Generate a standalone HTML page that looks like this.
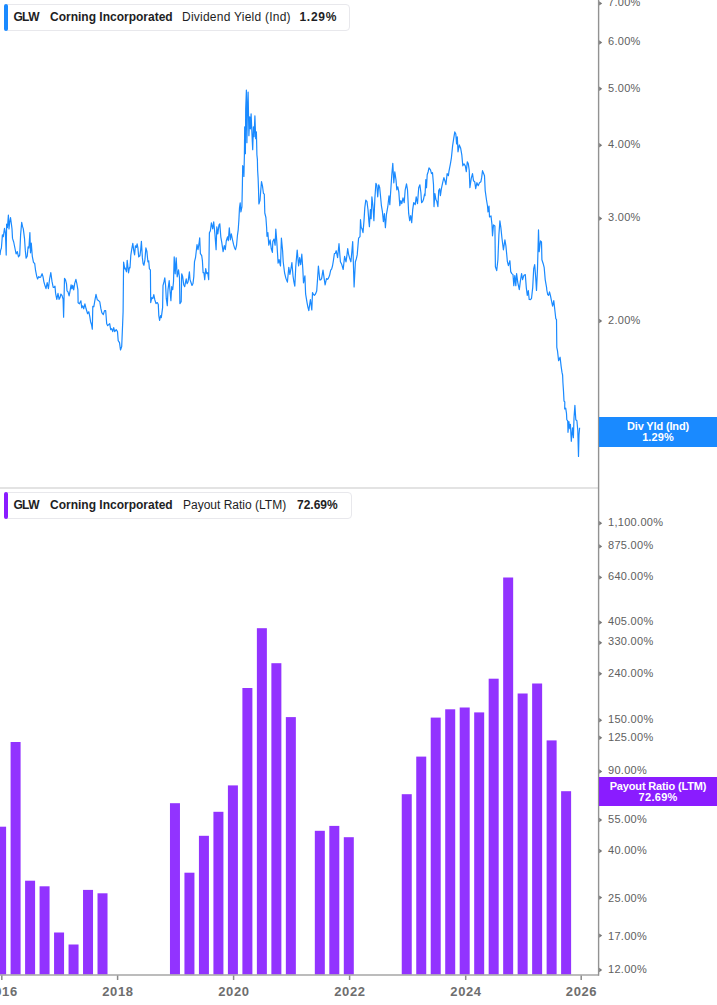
<!DOCTYPE html>
<html><head><meta charset="utf-8">
<style>
html,body{margin:0;padding:0;background:#fff;}
body{width:717px;height:1005px;overflow:hidden;position:relative;font-family:"Liberation Sans",sans-serif;}
svg{position:absolute;left:0;top:0;}
.leg{position:absolute;left:4px;height:26.5px;border:1px solid #e8e8ec;border-radius:4px;background:#fff;box-sizing:border-box;}
.leg .bar{position:absolute;left:-1px;top:-1px;bottom:-1px;width:4px;border-radius:3px;}
.leg span{position:absolute;top:5px;font-size:12px;line-height:14px;color:#1e1e24;white-space:nowrap;}
.b{font-weight:bold;}
.yl{position:absolute;left:608px;font-size:11px;letter-spacing:0.3px;line-height:13px;color:#606060;white-space:nowrap;}
.xl{position:absolute;top:984px;width:60px;text-align:center;font-size:13px;letter-spacing:0.6px;text-indent:0.6px;line-height:15px;font-weight:bold;color:#6e6e6e;}
.tag{position:absolute;left:599px;width:118px;color:#fff;font-weight:bold;font-size:11px;line-height:11px;text-align:center;box-sizing:border-box;}
</style></head><body>
<svg width="717" height="1005" viewBox="0 0 717 1005">
<rect x="0" y="487.2" width="598.8" height="1.6" fill="#dddddd"/>
<path d="M0.0,255.1 L0.6,250.4 L1.4,248.0 L2.4,234.9 L3.3,236.6 L4.5,228.3 L5.4,233.1 L6.2,255.1 L6.6,224.1 L7.4,227.7 L8.4,215.1 L9.0,228.9 L9.6,222.9 L10.5,217.5 L11.4,224.1 L12.0,228.9 L12.5,238.4 L13.7,242.0 L14.9,248.0 L16.1,254.0 L17.3,251.6 L18.5,256.9 L19.7,255.1 L20.6,234.9 L21.7,222.3 L22.5,226.4 L23.3,228.9 L24.5,238.4 L25.3,250.4 L26.1,258.1 L27.2,256.3 L28.1,246.8 L28.9,248.0 L29.9,232.5 L30.5,252.8 L31.3,243.2 L32.3,256.3 L33.5,262.3 L34.7,263.5 L35.6,270.7 L36.8,276.6 L37.6,279.0 L38.8,276.6 L39.7,277.5 L40.6,277.2 L42.1,273.7 L43.0,276.6 L43.9,281.8 L44.8,285.0 L46.0,288.6 L47.2,282.6 L48.4,288.6 L49.6,279.0 L50.8,272.5 L52.0,281.4 L53.2,287.4 L54.1,287.4 L55.0,286.2 L55.6,293.4 L56.8,299.3 L58.0,293.4 L59.1,299.3 L60.0,297.6 L60.9,294.0 L62.1,295.7 L63.1,299.3 L63.6,317.2 L64.5,278.4 L65.5,279.9 L66.5,283.9 L67.0,290.8 L68.0,291.8 L69.1,295.8 L69.9,291.8 L71.1,284.9 L71.9,288.9 L72.7,285.4 L73.7,289.9 L74.7,283.4 L75.9,279.4 L76.9,283.9 L77.9,289.9 L78.1,302.8 L79.4,303.8 L80.9,300.8 L81.7,307.8 L82.7,305.8 L83.7,308.8 L84.9,303.8 L86.1,308.8 L87.6,313.7 L88.8,311.7 L89.8,316.7 L90.6,321.7 L91.5,324.5 L92.3,329.2 L92.8,306.3 L93.8,306.8 L94.8,300.8 L96.0,294.3 L97.3,299.8 L98.8,300.8 L99.8,301.8 L100.8,308.2 L101.8,312.7 L103.3,314.7 L104.5,310.7 L105.7,310.7 L106.7,323.7 L107.7,325.7 L108.7,324.7 L109.7,323.7 L110.7,329.7 L111.7,328.7 L112.7,331.6 L113.7,327.7 L114.7,331.6 L116.2,329.7 L117.5,331.6 L118.2,340.6 L119.5,342.6 L120.5,350.0 L121.7,346.6 L122.6,324.7 L123.1,311.7 L123.6,262.0 L124.8,269.0 L125.0,267.8 L125.8,269.8 L126.5,271.8 L127.2,260.3 L128.0,267.8 L128.5,272.8 L129.5,267.3 L130.0,267.8 L130.8,255.4 L131.8,248.9 L132.8,243.4 L133.8,250.9 L134.6,254.9 L135.4,245.9 L136.4,247.4 L137.1,243.9 L137.9,247.9 L138.7,256.9 L139.9,255.9 L140.7,249.9 L141.4,241.4 L142.4,257.9 L143.1,263.8 L143.9,265.3 L144.9,259.9 L145.9,247.9 L146.9,251.4 L147.9,261.8 L148.7,260.8 L149.4,268.8 L150.4,269.8 L150.7,302.6 L151.8,297.7 L152.8,298.7 L153.8,294.7 L154.8,299.7 L156.0,303.6 L157.3,302.6 L158.3,304.6 L158.8,315.6 L159.6,320.5 L160.6,315.6 L161.3,317.6 L162.6,307.6 L163.0,285.7 L164.0,281.7 L164.8,277.8 L165.6,285.7 L166.3,298.7 L167.3,305.6 L168.0,289.7 L169.2,280.7 L169.9,289.7 L170.9,300.6 L171.7,286.7 L172.7,289.7 L173.5,281.7 L174.2,256.9 L175.2,273.8 L176.2,257.9 L177.2,276.8 L178.5,269.8 L179.5,277.8 L179.9,303.6 L181.2,301.6 L181.7,273.8 L182.7,276.8 L183.7,284.7 L184.7,286.7 L186.2,278.8 L187.1,283.7 L188.1,281.7 L189.4,271.8 L190.0,279.6 L191.0,282.5 L192.0,285.5 L193.0,283.5 L193.8,276.6 L194.5,261.6 L195.5,257.7 L196.2,251.7 L197.0,244.7 L198.0,249.7 L199.0,243.7 L199.7,237.8 L200.4,253.7 L201.7,255.7 L202.4,260.6 L203.1,272.6 L203.9,272.6 L204.7,279.6 L205.7,268.6 L206.7,273.6 L207.7,272.6 L208.7,279.6 L209.4,232.8 L210.4,230.8 L211.4,222.8 L212.7,228.8 L213.7,221.8 L214.9,233.8 L216.1,249.7 L216.8,226.8 L217.8,233.8 L219.0,224.8 L219.8,223.8 L220.8,236.8 L221.8,242.7 L223.1,251.7 L224.3,245.7 L225.3,249.7 L226.3,240.7 L227.6,236.8 L228.3,240.7 L229.3,227.8 L230.3,239.8 L231.3,233.8 L232.3,238.8 L233.6,244.7 L234.5,247.7 L235.5,249.7 L236.5,245.7 L237.5,234.8 L238.2,229.8 L238.9,219.9 L239.5,207.9 L240.2,202.9 L240.9,211.9 L241.9,206.9 L242.4,184.5 L242.7,165.6 L243.7,168.6 L243.9,176.5 L244.4,154.7 L244.7,126.8 L245.4,153.7 L245.7,108.9 L246.4,90.0 L246.9,142.7 L247.4,109.9 L248.1,92.0 L248.9,135.7 L249.7,116.8 L250.4,128.8 L251.1,113.9 L251.9,132.8 L252.7,149.7 L253.4,126.8 L254.1,136.7 L254.9,115.8 L255.7,138.7 L256.4,131.8 L256.9,154.7 L257.4,159.6 L257.6,170.0 L258.1,178.1 L258.5,188.8 L258.9,204.0 L260.0,200.4 L260.6,192.4 L261.5,181.6 L262.5,186.1 L263.4,193.3 L264.3,194.2 L264.8,213.0 L265.9,217.5 L266.6,227.3 L267.0,236.3 L267.9,232.7 L268.8,245.2 L270.1,239.8 L271.3,248.8 L272.4,252.4 L272.8,241.6 L274.0,239.0 L275.1,245.2 L275.8,229.1 L276.8,241.6 L277.9,259.6 L278.1,263.2 L279.1,259.7 L280.5,266.0 L281.4,238.1 L282.6,250.7 L283.2,261.8 L284.6,273.0 L286.0,278.6 L287.4,282.1 L288.8,267.4 L289.9,274.4 L290.9,269.0 L291.9,262.5 L293.0,275.8 L293.9,281.8 L294.8,286.2 L295.8,266.0 L297.2,250.0 L298.6,266.0 L299.6,257.7 L300.7,264.6 L301.8,254.2 L302.8,268.8 L303.5,282.8 L304.9,275.8 L305.6,293.9 L307.0,302.3 L307.9,307.1 L308.8,310.7 L310.4,299.5 L311.8,310.0 L312.5,292.5 L313.4,294.5 L314.4,295.3 L315.5,294.0 L316.7,291.1 L317.5,279.7 L318.4,266.0 L319.8,280.0 L320.7,279.9 L321.6,278.6 L323.0,270.2 L324.1,278.2 L325.1,284.9 L326.5,278.6 L327.6,279.3 L328.6,277.9 L329.6,275.3 L330.7,270.2 L331.6,269.1 L332.5,266.0 L333.4,260.6 L334.4,253.5 L335.3,253.4 L336.2,250.7 L337.6,257.7 L339.0,243.7 L340.4,261.8 L341.8,264.6 L343.2,269.5 L344.6,256.3 L346.0,261.8 L346.9,255.7 L347.7,248.6 L348.6,254.3 L349.5,257.7 L350.9,261.8 L351.8,252.4 L352.7,241.6 L354.1,286.9 L355.4,261.8 L356.3,259.0 L357.2,254.9 L358.6,238.1 L360.0,236.6 L360.5,219.7 L361.2,227.6 L362.0,228.6 L363.0,232.6 L364.0,220.6 L364.8,207.7 L365.8,200.2 L367.0,201.7 L368.0,209.7 L368.9,221.6 L369.4,226.6 L370.4,209.7 L371.1,218.7 L371.9,196.8 L372.9,205.7 L373.9,220.6 L374.9,197.8 L375.9,183.3 L376.9,185.8 L377.7,196.8 L378.7,184.8 L379.7,187.8 L380.4,194.8 L381.4,205.7 L382.4,211.7 L383.4,221.6 L384.4,213.7 L385.4,227.6 L386.4,214.7 L387.8,206.7 L389.0,195.8 L389.8,204.7 L390.8,189.8 L391.8,174.9 L392.8,163.4 L393.8,182.8 L394.8,171.9 L396.0,179.9 L396.8,189.8 L397.8,186.8 L398.8,191.8 L399.8,205.7 L400.8,200.7 L401.8,203.7 L403.0,197.8 L404.2,202.7 L405.2,189.8 L406.5,183.8 L407.5,189.8 L408.7,213.7 L409.7,220.6 L410.7,215.7 L411.7,222.6 L412.7,209.7 L413.7,202.7 L415.2,204.7 L416.2,196.8 L417.5,203.7 L418.7,187.8 L419.9,184.8 L420.9,192.8 L421.6,202.7 L422.5,201.8 L423.4,199.8 L424.6,193.8 L425.0,195.6 L425.8,179.7 L426.5,187.7 L427.2,174.7 L428.1,172.0 L429.0,167.8 L430.5,169.8 L431.5,173.7 L432.5,172.7 L433.5,184.7 L434.0,206.6 L434.9,193.6 L435.9,199.6 L436.9,201.6 L437.9,206.6 L438.7,190.6 L439.7,188.7 L440.4,195.6 L441.4,188.7 L442.9,181.7 L443.9,177.7 L444.9,180.7 L445.9,184.7 L447.1,173.7 L448.4,175.7 L448.9,171.7 L450.4,163.8 L451.4,157.8 L452.6,145.9 L453.8,137.9 L454.8,131.9 L455.8,133.9 L456.6,143.9 L457.3,136.9 L458.0,151.8 L459.3,144.9 L460.6,147.9 L461.8,154.8 L462.8,165.8 L464.0,163.8 L465.3,165.8 L466.3,171.7 L467.3,161.8 L468.3,163.8 L469.2,169.8 L469.9,187.7 L471.2,178.7 L472.5,173.7 L473.5,180.7 L474.7,181.7 L475.7,188.7 L476.9,182.7 L478.2,185.7 L479.5,182.7 L480.9,181.7 L481.7,177.4 L482.5,170.7 L483.7,173.7 L484.5,175.7 L485.2,190.6 L486.5,200.0 L487.5,206.0 L488.0,211.9 L489.0,206.0 L489.5,216.9 L491.0,215.9 L492.0,224.9 L492.5,235.8 L493.5,224.9 L494.9,225.9 L495.4,266.7 L496.7,270.6 L497.9,259.7 L498.9,234.8 L499.9,220.9 L500.9,227.9 L501.9,237.8 L503.4,249.8 L504.9,239.8 L505.9,245.8 L507.4,261.7 L508.4,265.7 L509.9,260.7 L510.7,271.6 L511.8,273.6 L513.0,274.6 L513.8,285.6 L514.8,275.6 L515.8,285.6 L516.6,273.6 L517.8,282.6 L519.3,289.6 L520.3,281.6 L521.6,273.6 L522.6,279.6 L523.8,275.6 L525.3,274.6 L526.3,287.6 L527.3,295.5 L528.3,290.5 L529.2,299.5 L530.4,299.6 L531.5,298.5 L532.7,287.6 L533.7,268.7 L534.7,264.7 L535.7,277.6 L536.5,290.5 L537.5,268.7 L538.5,229.9 L539.2,251.7 L540.5,240.8 L541.5,241.8 L541.9,259.7 L543.2,263.7 L544.2,267.7 L545.2,279.6 L546.6,287.6 L546.8,290.0 L547.7,294.5 L548.6,295.4 L549.5,291.8 L550.4,295.4 L551.3,299.9 L552.6,306.1 L553.8,300.7 L554.4,306.1 L555.0,311.5 L555.8,318.7 L556.5,319.6 L556.8,347.3 L557.5,350.9 L558.6,360.7 L560.1,357.2 L561.1,366.1 L562.0,372.4 L562.6,375.0 L562.9,382.2 L563.5,391.1 L564.0,401.0 L564.8,401.9 L564.7,409.0 L565.7,408.1 L566.5,413.5 L566.8,419.8 L567.7,420.7 L568.0,432.3 L568.9,421.6 L569.8,428.7 L570.4,424.3 L571.3,441.3 L572.5,427.8 L573.4,437.7 L574.0,418.0 L574.9,405.4 L575.8,419.8 L576.9,420.7 L577.8,430.5 L578.5,456.5 L579.0,435.0 L579.6,427.8" fill="none" stroke="#1a8aff" stroke-width="1.2" stroke-linejoin="round"/>
<g fill="#9233ff">
<rect x="-3.89" y="826.7" width="10.0" height="147.8"/>
<rect x="10.60" y="742.0" width="10.0" height="232.5"/>
<rect x="25.09" y="880.7" width="10.0" height="93.8"/>
<rect x="39.57" y="886.3" width="10.0" height="88.2"/>
<rect x="54.06" y="932.5" width="10.0" height="42.0"/>
<rect x="68.55" y="944.5" width="10.0" height="30.0"/>
<rect x="83.03" y="889.9" width="10.0" height="84.6"/>
<rect x="97.52" y="893.3" width="10.0" height="81.2"/>
<rect x="169.96" y="803.2" width="10.0" height="171.3"/>
<rect x="184.44" y="872.7" width="10.0" height="101.8"/>
<rect x="198.93" y="835.8" width="10.0" height="138.7"/>
<rect x="213.42" y="811.8" width="10.0" height="162.7"/>
<rect x="227.91" y="785.4" width="10.0" height="189.1"/>
<rect x="242.39" y="688.0" width="10.0" height="286.5"/>
<rect x="256.88" y="628.2" width="10.0" height="346.3"/>
<rect x="271.37" y="663.2" width="10.0" height="311.3"/>
<rect x="285.85" y="717.1" width="10.0" height="257.4"/>
<rect x="314.83" y="830.8" width="10.0" height="143.7"/>
<rect x="329.31" y="825.9" width="10.0" height="148.6"/>
<rect x="343.80" y="837.2" width="10.0" height="137.3"/>
<rect x="401.75" y="794.2" width="10.0" height="180.3"/>
<rect x="416.24" y="756.6" width="10.0" height="217.9"/>
<rect x="430.72" y="717.6" width="10.0" height="256.9"/>
<rect x="445.21" y="709.3" width="10.0" height="265.2"/>
<rect x="459.70" y="707.5" width="10.0" height="267.0"/>
<rect x="474.18" y="712.4" width="10.0" height="262.1"/>
<rect x="488.67" y="678.7" width="10.0" height="295.8"/>
<rect x="503.16" y="577.5" width="10.0" height="397.0"/>
<rect x="517.64" y="693.5" width="10.0" height="281.0"/>
<rect x="532.13" y="683.5" width="10.0" height="291.0"/>
<rect x="546.62" y="740.4" width="10.0" height="234.1"/>
<rect x="561.11" y="791.2" width="10.0" height="183.3"/>
</g>
<rect x="0" y="974.3" width="598.8" height="1.4" fill="#a0a0a0"/>
<rect x="597.9" y="0" width="1.4" height="975.7" fill="#929292"/>
<g fill="#777">
<path d="M599.2,1.2 L602.2,3.4 L599.2,5.6Z"/><path d="M599.2,40.3 L602.2,42.5 L599.2,44.7Z"/><path d="M599.2,86.5 L602.2,88.7 L599.2,90.9Z"/><path d="M599.2,143.0 L602.2,145.2 L599.2,147.4Z"/><path d="M599.2,216.3 L602.2,218.5 L599.2,220.7Z"/><path d="M599.2,318.8 L602.2,321.0 L599.2,323.2Z"/><path d="M599.2,521.1 L602.2,523.3 L599.2,525.5Z"/><path d="M599.2,544.2 L602.2,546.4 L599.2,548.6Z"/><path d="M599.2,575.2 L602.2,577.4 L599.2,579.6Z"/><path d="M599.2,620.3 L602.2,622.5 L599.2,624.7Z"/><path d="M599.2,640.5 L602.2,642.7 L599.2,644.9Z"/><path d="M599.2,671.5 L602.2,673.7 L599.2,675.9Z"/><path d="M599.2,718.1 L602.2,720.3 L599.2,722.5Z"/><path d="M599.2,735.6 L602.2,737.8 L599.2,740.0Z"/><path d="M599.2,769.3 L602.2,771.5 L599.2,773.7Z"/><path d="M599.2,817.8 L602.2,820.0 L599.2,822.2Z"/><path d="M599.2,848.8 L602.2,851.0 L599.2,853.2Z"/><path d="M599.2,895.4 L602.2,897.6 L599.2,899.8Z"/><path d="M599.2,933.4 L602.2,935.6 L599.2,937.8Z"/><path d="M599.2,967.8 L602.2,970.0 L599.2,972.2Z"/>
</g>
<g fill="#8a8a8a">
<rect x="1.05" y="975.5" width="1.5" height="4.5"/><rect x="116.85" y="975.5" width="1.5" height="4.5"/><rect x="232.85" y="975.5" width="1.5" height="4.5"/><rect x="348.85" y="975.5" width="1.5" height="4.5"/><rect x="464.95" y="975.5" width="1.5" height="4.5"/><rect x="580.45" y="975.5" width="1.5" height="4.5"/>
</g>
</svg>
<div class="leg" style="top:4px;width:346px;">
  <div class="bar" style="background:#1a8aff"></div>
  <span class="b" style="left:8.4px;letter-spacing:-0.6px">GLW</span>
  <span class="b" style="left:45px">Corning Incorporated</span>
  <span style="left:177px;letter-spacing:0.24px">Dividend Yield (Ind)</span>
  <span class="b" style="left:294.5px;letter-spacing:0.7px">1.29%</span>
</div>
<div class="leg" style="top:492px;width:348px;">
  <div class="bar" style="background:#8a1cff"></div>
  <span class="b" style="left:8.4px;letter-spacing:-0.6px">GLW</span>
  <span class="b" style="left:45px">Corning Incorporated</span>
  <span style="left:178px">Payout Ratio (LTM)</span>
  <span class="b" style="left:292px">72.69%</span>
</div>
<div class="yl" style="top:-3.8px">7.00%</div><div class="yl" style="top:35.3px">6.00%</div><div class="yl" style="top:81.5px">5.00%</div><div class="yl" style="top:138.0px">4.00%</div><div class="yl" style="top:211.3px">3.00%</div><div class="yl" style="top:313.8px">2.00%</div><div class="yl" style="top:516.1px">1,100.00%</div><div class="yl" style="top:539.2px">875.00%</div><div class="yl" style="top:570.2px">640.00%</div><div class="yl" style="top:615.3px">405.00%</div><div class="yl" style="top:634.6px">330.00%</div><div class="yl" style="top:666.9px">240.00%</div><div class="yl" style="top:713.1px">150.00%</div><div class="yl" style="top:730.6px">125.00%</div><div class="yl" style="top:764.3px">90.00%</div><div class="yl" style="top:812.8px">55.00%</div><div class="yl" style="top:843.8px">40.00%</div><div class="yl" style="top:891.6px">25.00%</div><div class="yl" style="top:929.8px">17.00%</div><div class="yl" style="top:962.8px">12.00%</div>
<div class="xl" style="left:-28.2px">2016</div><div class="xl" style="left:87.6px">2018</div><div class="xl" style="left:203.6px">2020</div><div class="xl" style="left:319.6px">2022</div><div class="xl" style="left:435.7px">2024</div><div class="xl" style="left:551.2px">2026</div>
<div class="tag" style="top:417px;height:30px;background:#1a8aff;padding-top:4px;"><div style="letter-spacing:-0.15px">Div Yld (Ind)</div><div style="letter-spacing:0.1px">1.29%</div></div>
<div class="tag" style="top:776.6px;height:29.7px;background:#8a1cff;padding-top:4px;"><div style="letter-spacing:-0.15px">Payout Ratio (LTM)</div><div style="letter-spacing:0.3px;text-indent:0.3px">72.69%</div></div>
</body></html>
